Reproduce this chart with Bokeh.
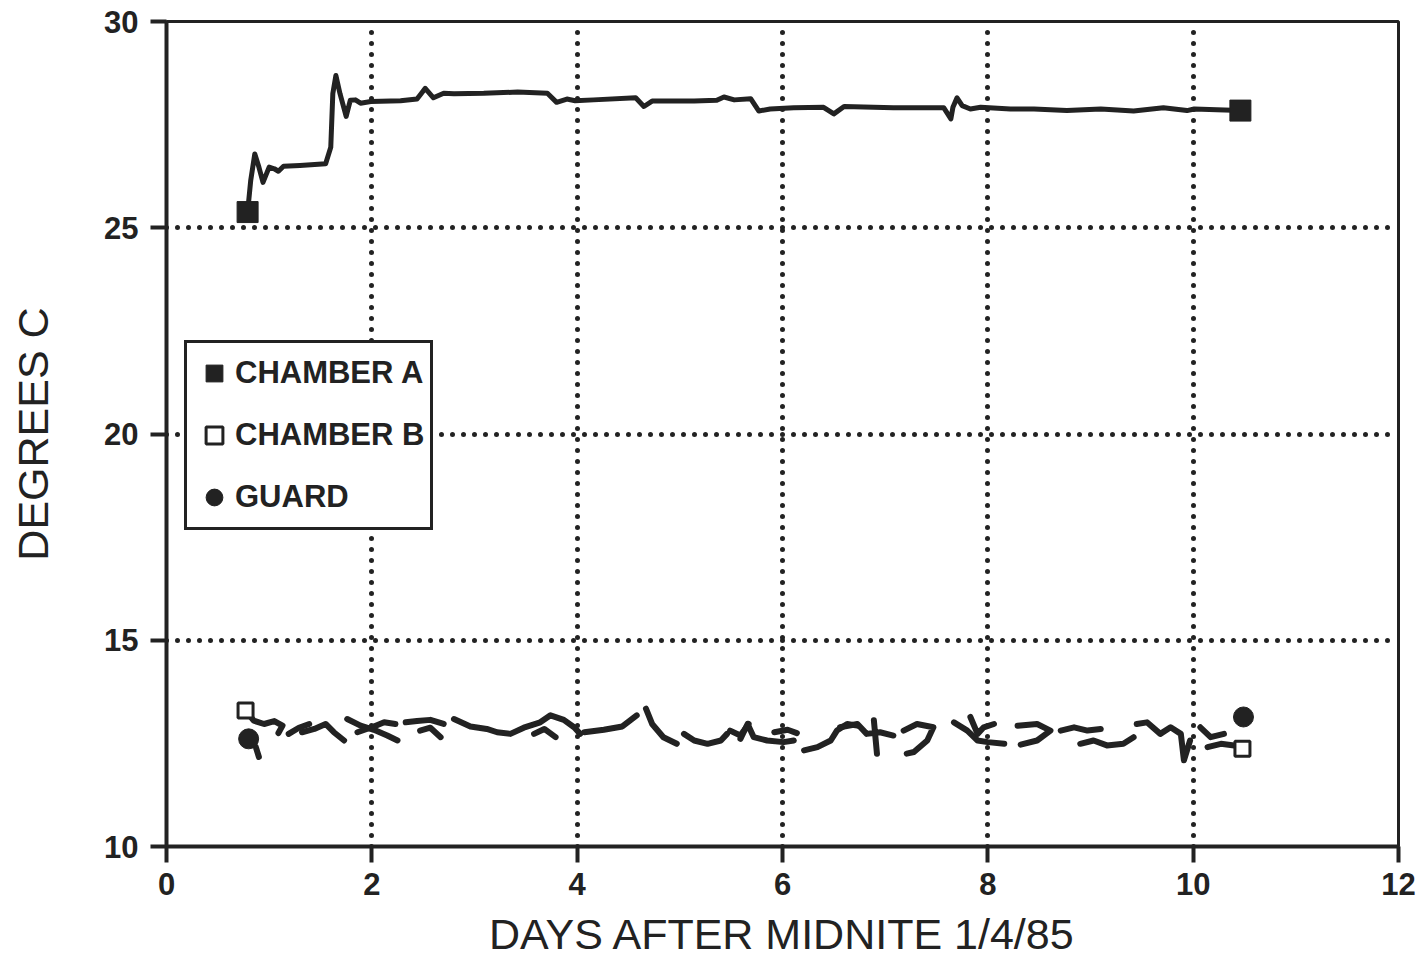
import numpy as np
from bokeh.plotting import figure
from bokeh.models import Range1d, FixedTicker, Legend, LegendItem
from bokeh.embed import file_html
from bokeh.resources import INLINE

nan = float("nan")

x_ticks = [0, 2, 4, 6, 8, 10, 12]
y_ticks = [10, 15, 20, 25, 30]

chamber_a_x = [0.79, 0.82, 0.86, 0.90, 0.94, 1.00, 1.05, 1.09, 1.14, 1.30, 1.55, 1.60, 1.62, 1.65, 1.69,
               1.75, 1.79, 1.84, 1.89, 1.99, 2.28, 2.44, 2.48, 2.52, 2.60, 2.70, 2.80, 3.09, 3.42, 3.71,
               3.80, 3.90, 3.98, 4.16, 4.57, 4.65, 4.73, 5.14, 5.36, 5.43, 5.53, 5.69, 5.77, 5.88, 6.11,
               6.40, 6.50, 6.60, 7.08, 7.57, 7.64, 7.66, 7.70, 7.75, 7.83, 7.93, 8.22, 8.45, 8.77, 9.10,
               9.42, 9.71, 9.94, 10.01, 10.23, 10.46]
chamber_a_y = [25.38, 26.14, 26.79, 26.47, 26.10, 26.47, 26.43, 26.37, 26.49, 26.51, 26.55, 26.95, 28.25,
               28.69, 28.25, 27.70, 28.09, 28.10, 28.02, 28.06, 28.08, 28.12, 28.25, 28.38, 28.15, 28.26,
               28.25, 28.26, 28.29, 28.26, 28.04, 28.12, 28.08, 28.10, 28.15, 27.94, 28.07, 28.07, 28.09,
               28.17, 28.10, 28.13, 27.83, 27.88, 27.91, 27.92, 27.76, 27.94, 27.91, 27.91, 27.64, 27.92,
               28.15, 27.96, 27.88, 27.92, 27.88, 27.88, 27.84, 27.88, 27.83, 27.91, 27.84, 27.88, 27.86,
               27.84]

chamber_b_x = [0.77, 0.85, 0.95, 1.05, 1.13, 1.09, nan,
               1.32, 1.44, 1.55, 1.63, 1.73, nan,
               1.76, 1.89, 2.02, 2.15, 2.25, nan,
               2.33, 2.44, 2.57, 2.70, nan,
               2.80, 2.96, 3.12, 3.22, 3.35, 3.48, 3.64, 3.74, 3.87, 3.97, 4.03, nan,
               4.07, 4.26, 4.44, 4.58, nan,
               5.04, 5.14, 5.27, 5.40, 5.46, nan,
               5.59, 5.66, 5.72, 5.85, 6.01, 6.11, nan,
               6.21, 6.34, 6.47, 6.53, 6.63, 6.73, nan,
               7.18, 7.31, 7.47, 7.41, 7.28, 7.21, nan,
               7.67, 7.80, 7.90, 8.00, 8.16, nan,
               8.29, 8.48, 8.61, 8.48, 8.32, nan,
               8.90, 9.03, 9.16, 9.32, 9.42, nan,
               9.45, 9.55, 9.68, 9.78, 9.88, 9.91, 9.94, 9.97, nan,
               10.14, 10.27, 10.40, 10.48]
chamber_b_y = [13.30, 13.05, 12.97, 13.04, 12.93, 12.75, nan,
               12.77, 12.85, 12.97, 12.77, 12.57, nan,
               13.09, 12.93, 12.83, 12.69, 12.57, nan,
               13.01, 13.04, 13.07, 12.97, nan,
               13.09, 12.91, 12.85, 12.77, 12.73, 12.88, 13.01, 13.18, 13.07, 12.89, 12.73, nan,
               12.77, 12.83, 12.91, 13.18, nan,
               12.73, 12.57, 12.49, 12.57, 12.73, nan,
               12.61, 12.97, 12.65, 12.57, 12.53, 12.57, nan,
               12.33, 12.41, 12.57, 12.81, 12.97, 12.93, nan,
               12.81, 12.97, 12.89, 12.57, 12.29, 12.25, nan,
               13.01, 12.81, 12.57, 12.53, 12.49, nan,
               12.93, 12.97, 12.81, 12.57, 12.47, nan,
               12.49, 12.57, 12.45, 12.49, 12.65, nan,
               12.97, 13.01, 12.73, 12.89, 12.73, 12.09, 12.33, 12.57, nan,
               12.41, 12.49, 12.45, 12.37]

guard_x = [0.80, 0.87, 0.90, nan,
           1.19, 1.29, 1.39, nan,
           1.86, 2.02, 2.12, 2.23, nan,
           2.47, 2.57, 2.67, nan,
           3.58, 3.68, 3.79, nan,
           4.67, 4.73, 4.84, 4.97, nan,
           5.49, 5.59, 5.67, nan,
           5.92, 6.05, 6.14, nan,
           6.56, 6.73, 6.82, 6.95, 7.08, nan,
           6.89, 6.92, nan,
           7.83, 7.90, 7.96, 8.06, nan,
           8.71, 8.84, 8.97, 9.10, nan,
           10.07, 10.17, 10.30, nan,
           10.49]
guard_y = [12.61, 12.41, 12.17, nan,
           12.73, 12.88, 12.97, nan,
           12.77, 12.91, 13.01, 12.97, nan,
           12.81, 12.88, 12.65, nan,
           12.73, 12.85, 12.65, nan,
           13.34, 12.97, 12.65, 12.49, nan,
           12.81, 12.69, 12.97, nan,
           12.77, 12.83, 12.75, nan,
           12.89, 12.97, 12.73, 12.77, 12.69, nan,
           13.06, 12.25, nan,
           13.14, 12.73, 12.89, 12.97, nan,
           12.81, 12.89, 12.81, 12.85, nan,
           12.89, 12.65, 12.73, nan,
           13.14]

INK = "#222222"
FONT = "Liberation Sans"


def ends(xs, ys):
    pts = [(a, b) for a, b in zip(xs, ys) if not (np.isnan(a) or np.isnan(b))]
    return [pts[0][0], pts[-1][0]], [pts[0][1], pts[-1][1]]


p = figure(width=1420, height=960, output_backend="svg", toolbar_location=None,
           x_range=Range1d(0, 12), y_range=Range1d(10, 30),
           min_border_left=166, min_border_right=22, min_border_top=21, min_border_bottom=114)
p.background_fill_color = "white"
p.border_fill_color = "white"
p.outline_line_color = INK
p.outline_line_width = 3

p.line(chamber_a_x, chamber_a_y, line_color=INK, line_width=5, line_join="round", line_cap="round")
p.line(chamber_b_x, chamber_b_y, line_color=INK, line_width=6, line_join="round", line_cap="round")
p.line(guard_x, guard_y, line_color=INK, line_width=6, line_join="round", line_cap="round")

ax, ay = ends(chamber_a_x, chamber_a_y)
bx, by = ends(chamber_b_x, chamber_b_y)
gx, gy = ends(guard_x, guard_y)
ra = p.scatter(ax, ay, marker="square", size=21, fill_color=INK, line_color=INK, line_width=1)
rb = p.scatter(bx, by, marker="square", size=15, fill_color="white", line_color=INK, line_width=3)
rg = p.scatter(gx, gy, marker="circle", size=20, fill_color=INK, line_color=INK, line_width=1)

for ax_ in (p.xaxis[0], p.yaxis[0]):
    ax_.axis_line_color = INK
    ax_.axis_line_width = 4
    ax_.major_tick_line_color = INK
    ax_.major_tick_line_width = 4
    ax_.major_tick_out = 16
    ax_.major_tick_in = 0
    ax_.minor_tick_line_color = None
    ax_.major_label_text_color = INK
    ax_.major_label_text_font = FONT
    ax_.major_label_text_font_style = "bold"
    ax_.major_label_text_font_size = "31px"
    ax_.axis_label_text_color = INK
    ax_.axis_label_text_font = FONT
    ax_.axis_label_text_font_style = "normal"
    ax_.axis_label_text_font_size = "43px"

p.xaxis.ticker = FixedTicker(ticks=x_ticks)
p.yaxis.ticker = FixedTicker(ticks=y_ticks)
p.xaxis.axis_label = "DAYS AFTER MIDNITE 1/4/85"
p.yaxis.axis_label = "DEGREES C"
p.xaxis.major_label_standoff = 10
p.yaxis.major_label_standoff = 12
p.xaxis.axis_label_standoff = 12
p.yaxis.axis_label_standoff = 44

p.grid.grid_line_color = INK
p.grid.grid_line_width = 5
p.grid.grid_line_dash = "0 11"
p.grid.grid_line_cap = "round"

legend = Legend(items=[LegendItem(label="CHAMBER A", renderers=[ra]),
                       LegendItem(label="CHAMBER B", renderers=[rb]),
                       LegendItem(label="GUARD", renderers=[rg])],
                location=(18, 316))
legend.border_line_color = INK
legend.border_line_alpha = 1
legend.border_line_width = 3
legend.background_fill_color = "white"
legend.background_fill_alpha = 1
legend.padding = 6
legend.spacing = 14
legend.margin = 0
legend.glyph_width = 42
legend.glyph_height = 48
legend.label_height = 48
legend.label_standoff = 0
legend.label_text_font = FONT
legend.label_text_font_style = "bold"
legend.label_text_font_size = "31px"
legend.label_text_color = INK
p.add_layout(legend)

open("out.html", "w").write(file_html(p, INLINE))
